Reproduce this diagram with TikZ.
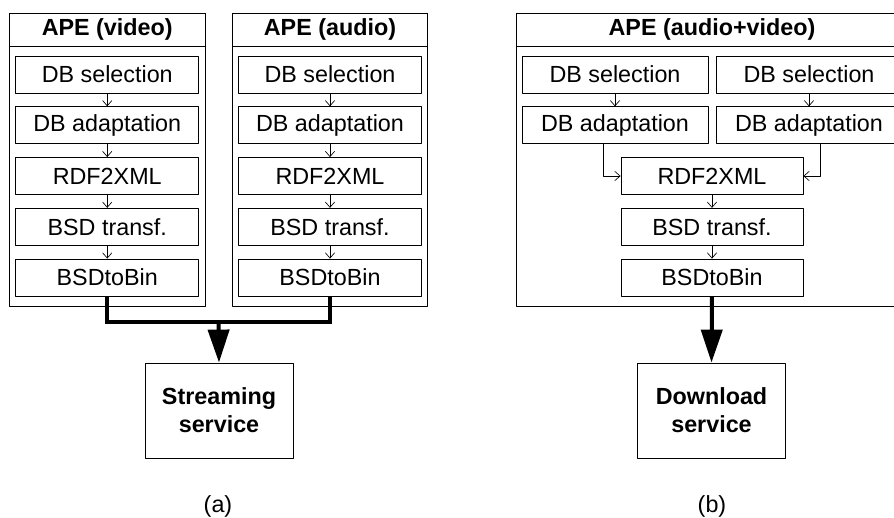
\documentclass[tikz,border=0pt]{standalone}
\usepackage{fontspec}
\setmainfont{Liberation Sans}
\usetikzlibrary{arrows.meta,positioning}
\begin{document}
\begin{tikzpicture}[x=0.75pt,y=-0.75pt,font=\fontsize{17.5}{21}\selectfont,line join=round,
  >={Straight Barb[length=4pt,width=7pt]}]
\def\dy{50.75}
\tikzset{blk/.style={draw,line width=0.6pt,inner sep=0pt,minimum height=27.75pt,minimum width=137.25pt},
  frame/.style={draw,line width=0.6pt,inner sep=0pt,minimum height=219.75pt},
  head/.style={draw,line width=0.6pt,inner sep=0pt,minimum height=24.75pt,font=\fontsize{17.5}{21}\selectfont\bfseries},
  serv/.style={draw,line width=0.6pt,align=center,minimum width=111pt,minimum height=71.25pt,font=\fontsize{17.5}{21}\selectfont\bfseries},
  thin/.style={->,line width=0.5pt},
  fat/.style={line width=3pt,line join=miter}}
\useasboundingbox (0,0) rectangle (894,518);
\clip (0,0) rectangle (894,518);
% (a) two separate engines
\foreach \c/\n/\s in {107.25/v/video,330/a/audio}{
  \node[frame,minimum width=146.6pt] (f\n) at (\c,159.5) {};
  \node[head,minimum width=146.6pt] (h\n) at (\c,29.5) {APE (\s)};
  \foreach \t [count=\i] in {DB selection,DB adaptation,RDF2XML,BSD transf.,BSDtoBin}
    \node[blk] (\n\i) at (\c,{74.5+\dy*(\i-1)}) {\t};
  \foreach \i in {1,...,4}{
    \pgfmathtruncatemacro{\j}{\i+1}
    \draw[thin] (\n\i) -- (\n\j);
  }
}
\coordinate (ja) at (218.5,322);
\node[serv] (ss) at (219,410.5) {Streaming\\service};
\draw[fat] (v5.south) |- (ja) -| (a5.south);
\draw[fat,-{Triangle[length=24.75pt,width=15.75pt]}] (ja) -- (ss.north);
\node (la) at (218,506) {(a)};
% (b) one engine for audio+video
\node[frame,minimum width=294pt] (fb) at (712,159.5) {};
\node[head,minimum width=294pt] (hb) at (712,29.5) {APE (audio+video)};
\foreach \c/\n in {615/l,809/r}{
  \node[blk,minimum width=139.5pt] (\n1) at (\c,74.5) {DB selection};
  \node[blk,minimum width=139.5pt] (\n2) at (\c,125.25) {DB adaptation};
  \draw[thin] (\n1) -- (\n2);
}
\foreach \t [count=\i from 3] in {RDF2XML,BSD transf.,BSDtoBin}
  \node[blk,minimum width=136.5pt] (m\i) at (712,{74.5+\dy*(\i-1)}) {\t};
\draw[thin] (m3) -- (m4);
\draw[thin] (m4) -- (m5);
\draw[thin] ([xshift=-12.75pt]m3.west |- l2.south) |- (m3.west);
\draw[thin] ([xshift=12.75pt]m3.east |- r2.south) |- (m3.east);
\node[serv] (ds) at (711.5,410.5) {Download\\service};
\draw[fat,-{Triangle[length=24.75pt,width=15.75pt]}] (m5.south) -- (ds.north);
\node (lb) at (712,506) {(b)};
\end{tikzpicture}
\end{document}
